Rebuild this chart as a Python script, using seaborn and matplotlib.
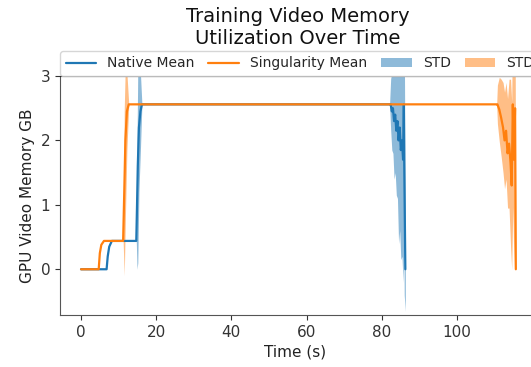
import numpy as np
import pandas as pd
import matplotlib
matplotlib.use("Agg")
import matplotlib.pyplot as plt
import seaborn as sns

# Native run: time (s), mean and std of GPU memory (GB)
native_time = [0.0, 6.8, 7.1, 7.5, 8.2, 14.7, 14.9, 15.1, 15.4, 15.8, 16.2,
               82.1, 82.4, 82.7, 83.0, 83.3, 83.6, 83.9, 84.2, 84.5, 84.8,
               85.1, 85.4, 85.7, 85.9, 86.0, 86.3]
native_mean = [0.0, 0.0, 0.2, 0.35, 0.44, 0.44, 1.0, 1.6, 2.2, 2.45, 2.56,
               2.56, 2.56, 2.45, 2.5, 2.3, 2.4, 2.15, 2.3, 2.0, 2.2,
               1.85, 2.0, 1.7, 2.56, 1.7, 0.0]
native_std = [0, 0, 0, 0, 0, 0, 1.0, 1.5, 1.0, 0.6, 0,
              0, 0.4, 0.6, 0.7, 0.9, 0.9, 1.0, 1.2, 1.6, 1.6,
              1.7, 1.8, 1.9, 2.0, 2.1, 0.65]

# Singularity run
sing_time = [0.0, 4.7, 5.0, 5.4, 6.1, 11.2, 11.5, 11.8, 12.2, 12.7,
             110.6, 110.8, 111.3, 111.8, 112.3, 112.7, 113.1, 113.5, 113.9,
             114.3, 114.6, 114.9, 115.2, 115.5, 115.7]
sing_mean = [0.0, 0.0, 0.25, 0.38, 0.44, 0.44, 1.2, 2.0, 2.45, 2.56,
             2.56, 2.56, 2.48, 2.35, 2.2, 2.0, 2.15, 1.8, 1.95,
             1.65, 1.3, 2.56, 1.7, 2.5, 0.0]
sing_std = [0, 0, 0, 0, 0, 0, 1.3, 1.2, 0.6, 0,
            0, 0.3, 0.5, 0.6, 0.7, 0.75, 0.75, 0.85, 1.0,
            1.3, 1.3, 1.6, 1.67, 1.5, 0.0]

sns.set_style("ticks")
plt.rcParams['font.family'] = ['DejaVu Sans']

blue, orange = '#1f77b4', '#ff7f0e'

fig = plt.figure(figsize=(5.31, 3.67), dpi=100)
# axes run past the right edge of the picture, as in the cropped original
ax = fig.add_axes([60 / 531, 52 / 367, 540 / 531, 239 / 367])

native = pd.DataFrame({'t': native_time, 'm': native_mean, 's': native_std})
sing = pd.DataFrame({'t': sing_time, 'm': sing_mean, 's': sing_std})

sns.lineplot(data=native, x='t', y='m', ax=ax, color=blue, linewidth=1.6,
             estimator=None, label='Native Mean')
sns.lineplot(data=sing, x='t', y='m', ax=ax, color=orange, linewidth=1.6,
             estimator=None, label='Singularity Mean')
f1 = ax.fill_between(native['t'], native['m'] - native['s'], native['m'] + native['s'],
                     color=blue, alpha=0.5, linewidth=0, label='STD')
f2 = ax.fill_between(sing['t'], sing['m'] - sing['s'], sing['m'] + sing['s'],
                     color=orange, alpha=0.5, linewidth=0, label='STD')

ax.set_xlim(-5.6, 138.1)
ax.set_ylim(-0.71, 3.0)
ax.set_xticks([0, 20, 40, 60, 80, 100])
ax.set_yticks([0, 1, 2, 3])
ax.tick_params(labelsize=11, colors='#333333')
ax.spines['right'].set_visible(False)
for sp in ['left', 'bottom']:
    ax.spines[sp].set_color('#555555')
ax.set_xlabel('Time (s)', fontsize=11, color='#222222')
ax.set_ylabel('GPU Video Memory GB', fontsize=11, color='#222222')
ax.set_title('Training Video Memory\nUtilization Over Time', fontsize=14,
             pad=23, color='#111111')
# title and x label centred on the visible part of the original axes
ax.title.set_position((0.44, 1.0))
ax.xaxis.set_label_coords(0.435, -0.125)

handles, labels = ax.get_legend_handles_labels()
order = ['Native Mean', 'Singularity Mean']
lines = [h for h, l in zip(handles, labels) if l in order]
ax.legend(lines + [f1, f2], order + ['STD', 'STD'], loc='lower left',
          bbox_to_anchor=(0, 1), borderaxespad=0, ncol=4, fontsize=10,
          handlelength=2.2, columnspacing=1.0, frameon=True)

fig.savefig('out.png', dpi=100)
